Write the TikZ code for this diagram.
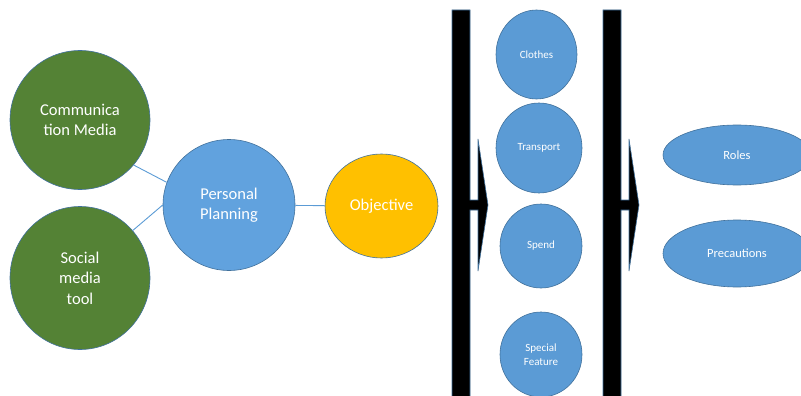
\documentclass[tikz,border=0pt]{standalone}
\usepackage{fontspec}
\setmainfont{Carlito}
\usetikzlibrary{shapes.geometric}
\definecolor{gfill}{HTML}{548235}
\definecolor{bfill}{HTML}{5B9BD5}
\definecolor{pfill}{HTML}{61A2DE}
\definecolor{ofill}{HTML}{FFC000}
\definecolor{edgeb}{HTML}{41719C}
\definecolor{linkb}{HTML}{5B9BD5}
\tikzset{
  bub/.style={ellipse, draw=edgeb, line width=0.6pt, inner sep=0pt, text=white, align=center},
  bigtxt/.style={font=\fontsize{16.5}{20.5}\selectfont},
  smalltxt/.style={font=\fontsize{11}{14}\selectfont},
  midtxt/.style={font=\fontsize{12.5}{15}\selectfont},
  link/.style={draw=linkb, line width=0.9pt},
  barshape/.style={fill=black, draw=edgeb, line width=0.6pt}
}
\begin{document}
\begin{tikzpicture}[x=1pt,y=-1pt]
\useasboundingbox (0,0) rectangle (801,396);
\clip (0,0) rectangle (801,396);
\node[bub, bigtxt, fill=gfill, minimum width=140pt, minimum height=139pt] (cm) at (80,120) {Communica\\tion Media};
\node[bub, bigtxt, fill=gfill, minimum width=140pt, minimum height=143pt] (sm) at (80,278) {Social\\media\\tool};
\node[bub, bigtxt, fill=pfill, minimum width=132pt, minimum height=131pt] (pp) at (229,205) {Personal\\Planning};
\node[bub, bigtxt, fill=ofill, minimum width=113pt, minimum height=104pt] (obj) at (381.5,206) {Objective};
\draw[link] (cm.-40) -- (pp.160);
\draw[link] (sm.42) -- (pp.west);
\draw[link] (pp) -- (obj);
% bracket arrows
\path[barshape] (452,10) -- (470,10) -- (470,200) -- (478,200) -- (478,139) -- (488,205) -- (478,271) -- (478,210) -- (470,210) -- (470,400) -- (452,400) -- cycle;
\path[barshape] (603,10) -- (621,10) -- (621,200) -- (629,200) -- (629,139) -- (639,205) -- (629,271) -- (629,210) -- (621,210) -- (621,400) -- (603,400) -- cycle;
% middle column
\node[bub, smalltxt, fill=bfill, minimum width=81pt, minimum height=89pt] (cl) at (536.5,54.5) {Clothes};
\node[bub, smalltxt, fill=bfill, minimum width=86pt, minimum height=90pt] (tr) at (539,148) {Transport};
\node[bub, smalltxt, fill=bfill, minimum width=82pt, minimum height=84pt] (sp) at (541,246) {Spend};
\node[bub, smalltxt, fill=bfill, minimum width=82pt, minimum height=85pt] (sf) at (541,354.5) {Special\\Feature};
% right column
\node[bub, midtxt, fill=bfill, minimum width=148pt, minimum height=60pt] (ro) at (737,155) {Roles};
\node[bub, midtxt, fill=bfill, minimum width=148pt, minimum height=67pt] (pr) at (737,253.5) {Precautions};
\end{tikzpicture}
\end{document}
